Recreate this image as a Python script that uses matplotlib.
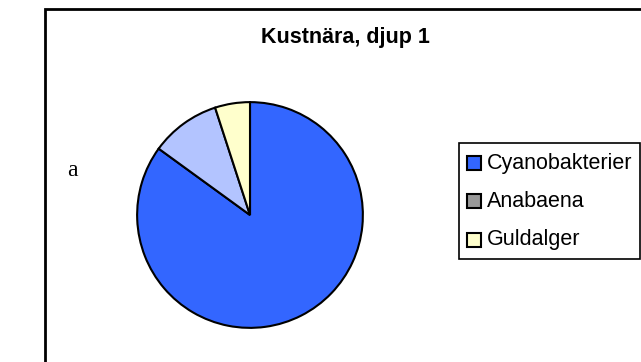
import matplotlib.pyplot as plt
from matplotlib.patches import Rectangle

# Andel per grupp, kustnära station, djup 1
labels = ["Cyanobakterier", "Anabaena", "Guldalger"]
values = [85, 10, 5]
slice_colors = ["#3366FF", "#B3C4FF", "#FFFFCC"]
legend_colors = ["#3366FF", "#999999", "#FFFFCC"]

W, H = 641, 362
fig = plt.figure(figsize=(W / 100, H / 100), dpi=100)
plt.rcParams['font.family'] = ['Liberation Sans', 'DejaVu Sans']

def fx(px):
  return px / W

def fy(py):
  return 1 - py / H

def box(x0, y0, x1, y1, **kw):
  # rektangel i pixelkoordinater (y nedåt)
  fig.patches.append(Rectangle((fx(x0), fy(y1)), (x1 - x0) / W, (y1 - y0) / H,
                               transform=fig.transFigure, **kw))

# ram runt diagramytan (höger/nederkant hamnar utanför bilden)
box(45, 9, 700, 420, fill=False, edgecolor="black", linewidth=2)

# cirkeldiagram
cx, cy, r = 250, 215, 114
ax = fig.add_axes([fx(cx - r), fy(cy + r), 2 * r / W, 2 * r / H])
ax.pie(values, colors=slice_colors, startangle=90, counterclock=False,
       wedgeprops=dict(edgecolor="black", linewidth=1.5))
ax.set_xlim(-1.01, 1.01)
ax.set_ylim(-1.01, 1.01)
ax.set_aspect("equal")
ax.axis("off")

fig.text(fx(345), fy(37), "Kustnära, djup 1", ha="center", va="center",
         fontsize=15.5, fontweight="bold")

fig.text(fx(72), fy(170), "a", ha="center", va="center",
         fontsize=17, family=["Liberation Serif", "DejaVu Serif"])

# förklaring
box(459, 143, 640, 259, fill=False, edgecolor="black", linewidth=1.2)
for i, (lab, col) in enumerate(zip(labels, legend_colors)):
  yc = 163 + i * 38.5
  box(467, yc - 7, 481, yc + 7, facecolor=col, edgecolor="black", linewidth=1.5)
  fig.text(fx(487), fy(yc), lab, ha="left", va="center", fontsize=15.5)

fig.savefig("out.png", dpi=100)
